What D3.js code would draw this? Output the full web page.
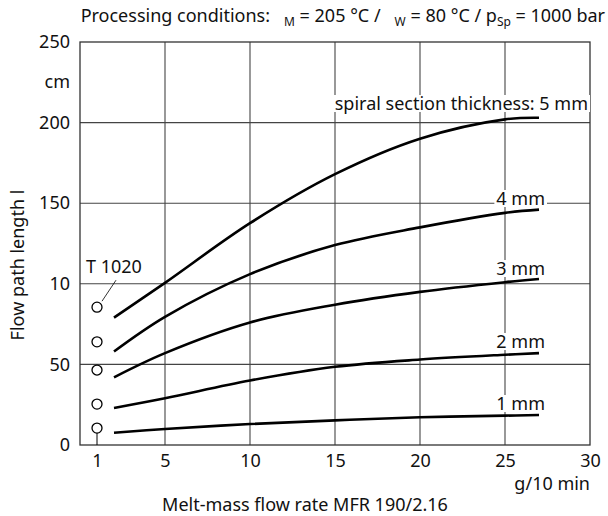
<!DOCTYPE html>
<html><head><meta charset="utf-8">
<script src="https://cdn.jsdelivr.net/npm/d3@7"></script>
<style>body{margin:0;background:#fff}svg{display:block}text{font-family:"Noto Sans",sans-serif;fill:#111}</style>
</head><body><svg id="c" width="608" height="516"></svg>
<script>
const xTicks = [1,5,10,15,20,25,30];
const yTicks = [0,50,100,150,200,250];
const yTickLabels = ["0","50","10","150","200","250"];
const curveX = [2,5,10,15,20,25,27];
const s1 = [7.6,9.9,13.0,15.3,17.2,18.2,18.6];
const s2 = [23,29,40,48.5,53,56,57];
const s3 = [42,57,76,87,95,101,103];
const s4 = [58,79.5,106,124,135,144,146];
const s5 = [79,100.6,137.6,168,190,202,203];
const seriesLabels = ["1 mm","2 mm","3 mm","4 mm","spiral section thickness: 5 mm"];
const markerX = 1;
const markerY = [10.5,25.4,46.5,64,85.5];

const W=608,H=516, m={l:80,r:18,t:42,b:71};
const FS=18;
const svg=d3.select("#c");
const x=d3.scaleLinear().domain([0,30]).range([m.l,W-m.r]);
const y=d3.scaleLinear().domain([0,250]).range([H-m.b,m.t]);
const g=svg.append("g");
g.selectAll("line.v").data([5,10,15,20,25]).join("line")
 .attr("x1",d=>x(d)).attr("x2",d=>x(d)).attr("y1",y(0)).attr("y2",y(250))
 .attr("stroke","#444").attr("stroke-width",1.1);
g.selectAll("line.h").data([50,100,150,200]).join("line")
 .attr("y1",d=>y(d)).attr("y2",d=>y(d)).attr("x1",x(0)).attr("x2",x(30))
 .attr("stroke","#444").attr("stroke-width",1.1);
g.append("rect").attr("x",x(0)).attr("y",y(250)).attr("width",x(30)-x(0)).attr("height",y(0)-y(250))
 .attr("fill","none").attr("stroke","#333").attr("stroke-width",1.3);
const xa=d3.axisBottom(x).tickValues(xTicks).tickSize(0).tickPadding(9);
const xg=svg.append("g").attr("transform",`translate(0,${y(0)})`).call(xa);
xg.select(".domain").remove();
xg.selectAll("text").attr("font-size",FS).attr("font-family","Noto Sans").attr("fill","#111");
const ya=d3.axisLeft(y).tickValues(yTicks).tickFormat((d,i)=>yTickLabels[i]).tickSize(0).tickPadding(10);
const yg=svg.append("g").attr("transform",`translate(${x(0)},0)`).call(ya);
yg.select(".domain").remove();
yg.selectAll("text").attr("font-size",FS).attr("font-family","Noto Sans").attr("fill","#111");
svg.append("text").attr("x",x(0)-10).attr("y",y(225)).attr("dy","0.32em").attr("text-anchor","end").attr("font-size",FS).text("cm");
svg.append("text").attr("x",x(30)).attr("y",490).attr("text-anchor","end").attr("font-size",FS).text("g/10 min");
svg.append("text").attr("x",305).attr("y",511).attr("text-anchor","middle").attr("font-size",FS).text("Melt-mass flow rate MFR 190/2.16");
svg.append("text").attr("transform",`translate(24,265) rotate(-90)`).attr("text-anchor","middle").attr("font-size",FS).text("Flow path length l");
const t=svg.append("text").attr("x",W-3).attr("y",22).attr("text-anchor","end").attr("font-size",FS);
t.append("tspan").text("Processing conditions:");
t.append("tspan").attr("font-size",12).attr("dx",14).attr("dy",4).text("M");
t.append("tspan").attr("dy",-4).text(" = 205 °C /");
t.append("tspan").attr("font-size",12).attr("dx",14).attr("dy",4).text("W");
t.append("tspan").attr("dy",-4).text(" = 80 °C / p");
t.append("tspan").attr("font-size",12).attr("dy",4).text("Sp");
t.append("tspan").attr("dy",-4).text(" = 1000 bar");
const line=d3.line().x((d,i)=>x(curveX[i])).y(d=>y(d)).curve(d3.curveCatmullRom.alpha(0.5));
const series=[s1,s2,s3,s4,s5];
svg.selectAll("path.s").data(series).join("path").attr("d",line).attr("fill","none").attr("stroke","#000").attr("stroke-width",2.6);
const labBase=[410,348,275,205,110];
seriesLabels.forEach((l,i)=>{
  const tx=svg.append("text").attr("x",i===4?x(30)-2:x(27)+6).attr("y",labBase[i]).attr("text-anchor","end").attr("font-size",FS).text(l);
  const bb=tx.node().getBBox();
  svg.insert("rect",()=>tx.node()).attr("x",bb.x-2).attr("y",bb.y+4).attr("width",bb.width+4).attr("height",bb.height-7).attr("fill","#fff");
});
svg.append("line").attr("x1",x(markerX)).attr("x2",x(markerX)).attr("y1",y(markerY[0])+5).attr("y2",y(0)).attr("stroke","#000");
svg.selectAll("circle").data(markerY).join("circle").attr("cx",x(markerX)).attr("cy",d=>y(d)).attr("r",5).attr("fill","#fff").attr("stroke","#000").attr("stroke-width",1.3);
svg.append("line").attr("x1",x(markerX)+5).attr("y1",y(markerY[4])-6).attr("x2",x(markerX)+19).attr("y2",y(markerY[4])-27).attr("stroke","#000").attr("stroke-width",0.8);
svg.append("text").attr("x",86).attr("y",273).attr("font-size",FS).text("T 1020");
</script></body></html>
